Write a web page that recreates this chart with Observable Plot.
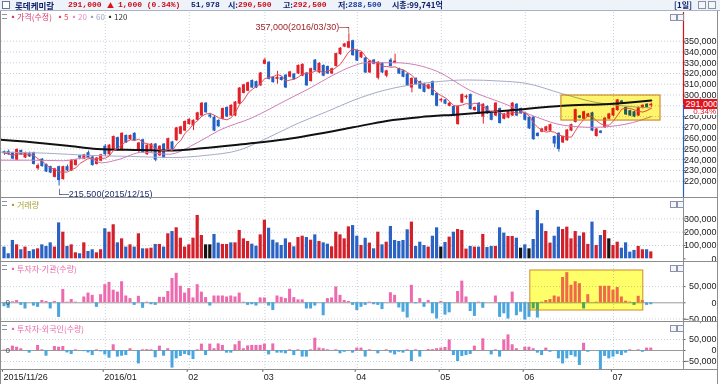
<!DOCTYPE html>
<html><head><meta charset="utf-8">
<script src="https://cdn.jsdelivr.net/npm/d3@7"></script>
<script src="https://cdn.jsdelivr.net/npm/@observablehq/plot@0.6"></script>
<style>
body{margin:0;background:#fff;}
#wrap{position:relative;width:720px;height:384px;overflow:hidden;background:#fff;font-family:"Liberation Sans",Arial,sans-serif;}
.a{position:absolute;white-space:nowrap;}
.kr{font-family:"Noto Sans CJK KR","Noto Sans",sans-serif;}
.mono{font-family:"Liberation Mono","DejaVu Sans Mono",monospace;}
.hl{position:absolute;height:1px;background:#8d8d8d;}
.vl{position:absolute;width:1px;background:#8d8d8d;}
.ico{position:absolute;width:6px;height:6px;border:1px solid #8a93a8;background:#f4f6fa;}
.bar{position:absolute;width:5px;height:3px;border-top:1px solid #8a93a8;border-bottom:1px solid #8a93a8;}
</style></head><body><div id="wrap"></div>
<script>
// ---------------- DATA (prices in thousands of won, volumes in thousands of shares) ----------------
const stockName = "롯데케미칼";
const hdrPrice = "291,000", hdrChange = "1,000", hdrPct = "(0.34%)", hdrVolume = "51,978";
const hdrOpen = "290,500", hdrHigh = "292,500", hdrLow = "288,500", hdrCap = "99,741억";

const open = [247,247,246,240,248,242,245,246,232,240, 235,233,224,233,222,233,230,235,243,241,
 246,242,236,239,252,245,250,260,249,262, 259,264,248,258,245,248,254,244,254,250,
 256,258,264,267,273,272,277,281,292,281, 279,276,278,288,281,281,292,302,304,313,
 312,309,329,330,316,315,316,318,317,319, 320,318,320,313,332,321,327,326,320,327,
 338,345,344,350,341,335,334,321,332,316, 329,318,332,330,324,322,319,307,315,312,
 310,306,312,301,295,295,290,289,273,293, 298,300,286,292,280,289,284,281,287,278,
 279,281,291,287,283,279,279,264,266,267, 267,261,264,256,258,267,275,280,278,280,
 283,262,266,270,278,281,286,294,288,285, 284,281,288,291,290.5];
const close = [246,245,241,249,245,246,243,236,234,234, 229,228,231,221,233,230,239,239,242,244,
 242,235,241,244,245,253,261,249,264,256, 262,258,255,247,253,254,240,252,242,259,
 250,269,270,275,277,276,283,292,284,280, 267,271,287,280,290,293,306,309,311,307,
 307,320,332,315,312,316,314,307,321,315, 327,328,309,324,323,329,318,320,324,338,
 343,347,349,337,332,339,321,331,329,330, 321,322,327,331,320,317,309,315,310,306,
 303,309,300,290,295.5,292,292,281,289,300, 298.5,287,288,283,291,283,277,292,274,282,
 284,292,281,283,277,269,259,262,268,270, 272,255,250,261,267,272,286,279,284,282,
 267,268,265,278,282,287,295,293,282,281, 280,288,290,289,291];
const high = [248,249,247,250,249,247,247,247,236,241, 236,234,232,234,234,235,240,240,244,245,
 248,243,242,245,254,254,262,261,265,263, 263,265,256,259,254,255,255,253,255,260,
 257,270,271,276,278,277,284,293,293,283, 281,277,288,289,291,294,307,310,312,314,
 313,321,334,331,317,322,317,319,322,320, 328,329,321,325,333,330,328,327,325,339,
 344,348,357,351,342,340,335,332,333,331, 330,323,334,338,325,323,320,316,316,313,
 311,310,313,302,297,296,293,290,290,301, 300,301,289,293,292,290,285,293,288,283,
 285,293,292,288,284,280,280,265,269,271, 273,262,265,262,268,273,287,281,285,283,
 284,269,267,279,283,288,296,295,289,286, 285,289,291,292,292.5];
const low = [244,244,240,239,244,241,242,235,230,233, 228,227,223,215.5,221,229,229,234,240,240,
 241,234,235,238,243,244,249,248,248,255, 258,257,246,246,244,247,238,243,241,249,
 249,257,263,266,272,267,276,280,283,278, 266,270,277,279,280,280,291,301,303,306,
 306,308,328,314,311,310,313,306,316,314, 319,317,308,312,322,320,317,319,319,326,
 337,344,343,336,331,334,320,320,328,314, 320,316,326,329,319,316,308,302,309,305,
 302,305,299,289,293,291,289,280,272,292, 296,286,285,282,273,282,276,280,273,277,
 278,280,280,282,276,268,258,261,265,266, 266,251,247,255,257,266,274,278,277,279,
 266,261,264,269,277,280,285,292,281,280, 279,280,287,288,288.5];
const volume = [88,38,138,105,68,88,55,68,75,105, 93,120,88,270,200,93,105,45,38,120,
 55,68,45,68,226,200,256,120,150,88, 105,88,188,75,75,80,108,108,88,188,
 205,233,155,88,105,155,326,175,105,105, 183,118,108,108,120,120,213,150,130,110,
 95,180,290,230,140,120,100,150,120,90, 160,170,160,140,180,130,120,110,90,200,
 180,150,240,250,170,100,155,118,75,200, 105,125,243,138,130,138,218,276,93,125,
 100,88,170,233,88,123,163,200,220,213, 73,93,88,88,183,85,93,93,233,193,
 168,168,155,80,105,75,145,363,263,205, 118,170,238,220,238,150,205,170,195,108,
 276,100,175,213,150,100,125,80,120,50, 63,93,68,68,52];
// 1 = up day (red), -1 = down day (blue), 0 = unchanged (black)
const volDir = [-1,-1,-1,1,-1,1,-1,-1,1,-1, -1,-1,1,-1,1,-1,1,1,-1,1,
 -1,-1,1,1,-1,1,1,-1,1,-1, 1,-1,1,-1,1,1,-1,1,-1,1,
 -1,1,1,1,1,1,1,1,0,0, -1,-1,1,1,-1,1,1,1,1,-1,
 -1,1,1,-1,-1,-1,-1,-1,1,-1, 1,1,-1,1,-1,1,-1,-1,1,1,
 1,1,1,-1,-1,1,-1,1,-1,1, -1,1,-1,-1,-1,-1,-1,1,-1,-1,
 -1,1,-1,-1,0,-1,1,-1,1,1, 1,-1,1,-1,1,-1,-1,1,-1,-1,
 1,1,-1,0,-1,0,-1,-1,-1,1, 1,-1,-1,1,1,1,1,-1,1,1,
 -1,1,-1,1,0,1,1,-1,-1,-1, -1,1,1,-1,1];
const institution = [-12,-17,3,7,-8,-19,0,-10,-14,7, 4,-19,4,-45,41,2,10,2,0,18,
 30,23,-14,25,56,63,39,33,65,21, 13,-8,20,-17,2,-6,-8,17,17,35,
 75,91,51,30,44,15,56,33,16,-10, 21,21,21,18,21,18,30,2,-8,-6,
 -10,15,15,-10,-24,21,17,13,42,16, 9,9,-19,-19,-10,0,-40,13,15,49,
 23,7,4,-8,-24,-14,-8,2,-6,-8, -21,1,31,23,-16,-29,-47,54,-3,13,
 -14,7,-34,-50,4,-38,-31,0,35,67, 18,-27,-42,2,-17,0,0,21,-45,-34,
 -50,33,-40,-29,-53,-45,-19,-47,2,7, 10,21,18,78,93,54,65,59,-19,25,
 0,2,51,51,51,39,47,18,5,2, -8,20,7,-8,-6];
const foreigner = [2,2,20,15,8,0,-12,0,23,3, -26,0,18,15,18,-11,-18,3,0,-5,
 -11,-23,3,-6,-20,-35,26,-30,-26,-23, 8,0,-61,3,4,3,-33,20,-26,8,
 -80,-38,-27,-18,-23,-41,3,29,-23,29, 8,30,23,-12,-12,26,42,8,21,23,
 23,23,29,-20,30,-12,-12,-15,3,-23, 3,-30,-30,3,56,11,8,3,0,3,
 -15,-8,0,-12,11,11,-30,3,0,-15, 0,3,-12,-20,-8,-12,3,-50,3,-30,
 0,4,4,8,11,14,48,-23,-50,-27, -23,-18,20,0,53,0,-20,3,-30,48,
 71,26,8,0,15,15,8,-12,-23,11, -8,0,-38,-61,-38,-23,-30,-68,33,-8,
 0,0,-91,-27,-38,-30,-18,-23,-12,3, 0,3,-8,11,11];
// moving averages (bar index, price)
const ma20Idx = [-1,6,14,20,23,27,33,39,46,51,59,67,73,78,83,86,93,98,103,111,119,127,133,140,148,154];
const ma20Val = [239.5,239.5,239,242,237,240,247,245,256,267,279,295,307,318,327,330,330,328,322,304,292,279,272,270,273,280];
const ma60Idx = [-1,10,20,30,40,48,56,62,70,77,83,90,96,102,110,118,124,133,141,147,154];
const ma60Val = [247,246,244,243,242,244,249,259,274,285,295,304,309,312,314,313,311,301,293,290,288];
const ma120Idx = [-1,9,15,22,31,39,47,56,67,83,91,99,108,120,133,144,154];
const ma120Val = [258.4,255.3,253,250,249,248.5,250.5,254,259,270,276,279.5,282,285.6,290,291.8,295];
// extremes
const extremes = [{i: 82, p: 357, date: "2016/03/30"}, {i: 13, p: 215.5, date: "2015/12/15"}];
// highlight boxes
const priceBox = [{x1: 132.6, x2: 156.2, y1: 276.3, y2: 299.6}];
const instBox = [{x1: 125.2, x2: 152.1, y1: -23.8, y2: 99.7}];
// ticks
const monthIdx = [0,24,44,62,84,104,124,145];
const monthLabels = ["2015/11/26","2016/01","02","03","04","05","06","07"];
const priceTicks = [220,230,240,250,260,270,280,290,300,310,320,330,340,350];
const volTicks = [0,100,200,300];
const invTicks = [-50,0,50];

// ---------------- LAYOUT ----------------
const wrap = document.getElementById("wrap");
const W = 720, ML = 1, MR = 37;
const XD = [-0.714, 161.67];
const UP = "#e0202a", DN = "#2160c4";
const fmt = d3.format(",");
const N = close.length;
const bars = d3.range(N).map(i => ({i, o: open[i], h: high[i], l: low[i], c: close[i],
  v: volume[i], vd: volDir[i], inst: institution[i], fgn: foreigner[i]}));
const pts = (ix, vs) => ix.map((x, k) => ({x, y: vs[k]}));
const baseStyle = {background: "transparent", overflow: "visible", fontFamily: "Liberation Sans, Arial, sans-serif", fontSize: "9px"};
const grid = {stroke: "#c6cfdc", strokeDasharray: "1,2"};
function place(el, top) { el.style.position = "absolute"; el.style.left = "0px"; el.style.top = top + "px"; wrap.appendChild(el); }
function div(cls, css, html) { const d = document.createElement("div"); d.className = cls; d.style.cssText = css; if (html != null) d.innerHTML = html; wrap.appendChild(d); return d; }
const axisLabels = (ticks, fmtf, skip) => Plot.text(ticks.filter(t => !(skip || []).includes(t)), {y: d => d, text: fmtf, frameAnchor: "right", textAnchor: "end", dx: 33, fill: "#222"});
const axisTicks = (ticks) => Plot.ruleY(ticks, {x1: XD[1], x2: XD[1] + 0.6, stroke: "#666"});

// header
div("a", "left:0;top:0;width:720px;height:10px;background:#eef2f9;border-bottom:1px solid #aab4c6;");
div("a", "left:2px;top:1px;width:6px;height:6px;border:1px solid #6b7790;background:#fff;");
const H = [
  [15, "kr", "#0a1e6a", stockName, 8.5],
  [68, "mono", "#c8101a", hdrPrice, 8], [107, "kr", "#e0101a", "▲", 7], [118, "mono", "#c8101a", hdrChange + " " + hdrPct, 8],
  [191, "mono", "#0a1e6a", hdrVolume, 8],
  [228, "kr", "#0a1e6a", "시:", 8], [238, "mono", "#c8101a", hdrOpen, 8],
  [283, "kr", "#0a1e6a", "고:", 8], [293, "mono", "#c8101a", hdrHigh, 8],
  [338, "kr", "#0a1e6a", "저:", 8], [348, "mono", "#1a3aa0", hdrLow, 8],
  [392, "kr", "#0a1e6a", "시총:" + hdrCap, 8],
  [674, "kr", "#0a1e6a", "[1일]", 8]
];
H.forEach(([x, c, col, t, fs]) => div("a " + c, `left:${x}px;top:0px;line-height:10px;font-size:${fs}px;font-weight:bold;color:${col};`, t));
div("ico", "left:698px;top:1px;");
div("ico", "left:708px;top:1px;");

// ---------------- PRICE PANEL ----------------
const col = d => d.c >= d.o ? UP : DN;
const hi = extremes[0], lo = extremes[1];
const pricePlot = Plot.plot({
  width: W, height: 186, marginLeft: ML, marginRight: MR, marginTop: 0, marginBottom: 0,
  x: {domain: XD, axis: null}, y: {domain: [203.94, 376.65], axis: null}, style: baseStyle,
  marks: [
    Plot.ruleY(priceTicks, grid),
    Plot.ruleX(monthIdx.slice(1), grid),
    Plot.ruleX(bars, {x: "i", y1: "l", y2: "h", stroke: col, strokeWidth: 1}),
    Plot.rect(bars, {x1: d => d.i - 0.36, x2: d => d.i + 0.36, y1: "o", y2: "c", fill: col, insetTop: -0.5, insetBottom: -0.5}),
    Plot.line(pts(ma60Idx, ma60Val), {x: "x", y: "y", stroke: "#a6abc9", strokeWidth: 1, curve: "monotone-x"}),
    Plot.line(pts(ma20Idx, ma20Val), {x: "x", y: "y", stroke: "#cf7fb6", strokeWidth: 1, curve: "monotone-x"}),
    Plot.line(pts(ma120Idx, ma120Val), {x: "x", y: "y", stroke: "#111", strokeWidth: 2, curve: "monotone-x"}),
    Plot.lineY(bars, Plot.windowY({k: 5, anchor: "end", strict: false}, {x: "i", y: "c", stroke: "#e4505c", strokeWidth: 1})),
    Plot.rect(priceBox, {x1: "x1", x2: "x2", y1: "y1", y2: "y2", fill: "#fff46e", mixBlendMode: "multiply"}),
    Plot.rect(priceBox, {x1: "x1", x2: "x2", y1: "y1", y2: "y2", fill: "none", stroke: "#c27a16"}),
    Plot.text([hi], {x: "i", y: "p", text: d => fmt(d.p * 1000) + "(" + d.date + ")─┐", textAnchor: "end", dx: 3, dy: -7, fill: "#a0262a"}),
    Plot.text([lo], {x: "i", y: "p", text: d => "└─" + fmt(d.p * 1000) + "(" + d.date + ")", textAnchor: "start", dx: -3, dy: 8, fill: "#22306e"}),
    axisLabels(priceTicks, d => fmt(d * 1000), [290]),
    axisTicks(priceTicks),
    Plot.ruleX([XD[1]], {y1: close[N - 1], y2: 376.65, stroke: "#d8101a", strokeWidth: 1.2}),
    Plot.ruleX([XD[1]], {y1: 203.94, y2: close[N - 1], stroke: "#2a5fc0", strokeWidth: 1.2})
  ]
});
place(pricePlot, 12);
// current price tag (positioned through the plot's y scale)
const ty = 12 + pricePlot.scale("y").apply(close[N - 1]);
div("a", `left:684px;top:${ty - 5}px;width:34px;height:10px;background:#e0141e;color:#fff;font-size:9px;line-height:10px;text-align:right;`, hdrPrice);
div("a", `left:684px;top:${ty + 5}px;width:32px;height:6px;background:#fff;color:#e0141e;font-size:8px;line-height:6px;text-align:right;`, "0.34%");
// legend
div("bar", "left:2px;top:14px;");
const L = [[9, "#d8386a", "▪가격(수정)"], [56, "#e34c55", "▪5"], [70, "#e58cc0", "▪20"], [88, "#9aa2bd", "▪60"], [106, "#333", "▪120"]];
L.forEach(([x, c, t]) => div("a kr", `left:${x}px;top:12px;font-size:8px;line-height:10px;color:${c};`, t));

// ---------------- VOLUME PANEL ----------------
const vcol = d => d.vd > 0 ? "#d4202a" : d.vd < 0 ? "#2a63c3" : "#151515";
const volPlot = Plot.plot({
  width: W, height: 64, marginLeft: ML, marginRight: MR, marginTop: 0, marginBottom: 0,
  x: {domain: XD, axis: null}, y: {domain: [-27.8, 453.4], axis: null}, style: baseStyle,
  marks: [
    Plot.ruleY(volTicks.slice(1), grid),
    Plot.ruleX(monthIdx.slice(1), grid),
    Plot.rect(bars, {x1: d => d.i - 0.38, x2: d => d.i + 0.38, y1: 0, y2: "v", fill: vcol}),
    axisLabels(volTicks, d => fmt(d * 1000)),
    axisTicks(volTicks)
  ]
});
place(volPlot, 198);
div("bar", "left:2px;top:201px;");
div("a kr", "left:9px;top:200px;font-size:8px;line-height:10px;color:#a8a238;", "▪거래량");

// ---------------- INVESTOR PANELS ----------------
const icol = v => v >= 0 ? "#ee6aae" : "#4aa6de";
const instPlot = Plot.plot({
  width: W, height: 60, marginLeft: ML, marginRight: MR, marginTop: 0, marginBottom: 0,
  x: {domain: XD, axis: null}, y: {domain: [-60.8, 124.4], axis: null}, style: baseStyle,
  marks: [
    Plot.ruleY([-50, 50], grid),
    Plot.ruleX(monthIdx.slice(1), grid),
    Plot.ruleY([0], {stroke: "#9a9a9a"}),
    Plot.rect(bars, {x1: d => d.i - 0.36, x2: d => d.i + 0.36, y1: 0, y2: "inst", fill: d => icol(d.inst)}),
    Plot.rect(instBox, {x1: "x1", x2: "x2", y1: "y1", y2: "y2", fill: "#ffff6a", mixBlendMode: "multiply"}),
    Plot.rect(instBox, {x1: "x1", x2: "x2", y1: "y1", y2: "y2", fill: "none", stroke: "#d08a28"}),
    Plot.text([0], {y: d => d, text: d => String(d), frameAnchor: "left", dx: 4, fill: "#444", fontSize: 8}),
    axisLabels(invTicks, d => fmt(d * 1000)),
    axisTicks(invTicks)
  ]
});
place(instPlot, 262);
div("bar", "left:2px;top:265px;");
div("a kr", "left:9px;top:264px;font-size:8px;line-height:10px;color:#e86aa8;", "▪투자자-기관(수량)");

const fgnPlot = Plot.plot({
  width: W, height: 62, marginLeft: ML, marginRight: MR, marginTop: 0, marginBottom: 14,
  x: {domain: XD, axis: null}, y: {domain: [-90.9, 127.3], axis: null}, style: baseStyle,
  marks: [
    Plot.ruleY([-50, 50], grid),
    Plot.ruleX(monthIdx.slice(1), grid),
    Plot.ruleY([0], {stroke: "#9a9a9a"}),
    Plot.rect(bars, {x1: d => d.i - 0.36, x2: d => d.i + 0.36, y1: 0, y2: "fgn", fill: d => icol(d.fgn)}),
    Plot.text([0], {y: d => d, text: d => String(d), frameAnchor: "left", dx: 4, fill: "#444", fontSize: 8}),
    axisLabels(invTicks, d => fmt(d * 1000)),
    axisTicks(invTicks),
    Plot.ruleX(monthIdx, {x: d => d - 0.5, y1: -90.9, y2: -99, stroke: "#555"}),
    Plot.text(monthIdx, {x: d => d - 0.5, text: (d, k) => monthLabels[k], frameAnchor: "bottom", dy: 9, dx: 1, textAnchor: "start", fill: "#222"})
  ]
});
place(fgnPlot, 322);
div("bar", "left:2px;top:325px;");
div("a kr", "left:9px;top:324px;font-size:8px;line-height:10px;color:#e86aa8;", "▪투자자-외국인(수량)");

// panel frames & icons
[198, 262, 322, 370].forEach(y => div("hl", `left:0;top:${y - 1}px;width:718px;`));
div("vl", "left:0;top:11px;height:373px;");
div("vl", "left:717px;top:11px;height:373px;");
div("vl", "left:683px;top:198px;height:172px;");
[14, 201, 265, 325].forEach(y => { div("ico", `left:670px;top:${y}px;width:5px;height:5px;`); div("ico", `left:677px;top:${y}px;width:5px;height:5px;`); });
</script></body></html>
